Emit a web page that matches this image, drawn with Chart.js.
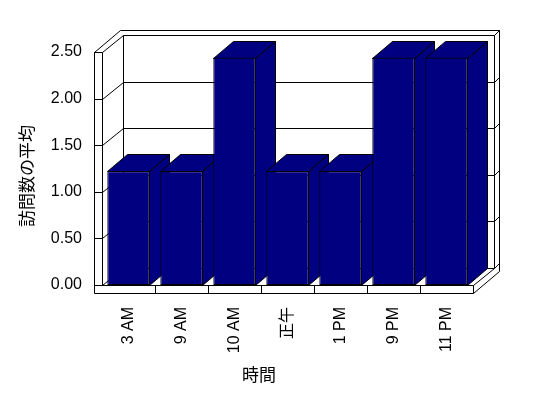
<!DOCTYPE html>
<html>
<head>
<meta charset="utf-8">
<script src="https://cdn.jsdelivr.net/npm/chart.js@4.4.1/dist/chart.umd.min.js"></script>
<style>
  body { margin: 0; background: #fff; }
</style>
</head>
<body>
<canvas id="chart" width="548" height="398"></canvas>
<script>
// data
const hours = ['3 AM', '9 AM', '10 AM', '正午', '1 PM', '9 PM', '11 PM'];
const avgVisits = [1.22, 1.22, 2.44, 1.22, 1.22, 2.44, 2.44];
const yTicks = [0, 0.5, 1, 1.5, 2, 2.5];
const yTitle = '訪問数の平均';
const xTitle = '時間';

const NAVY = '#000080';
const FONT = '"Liberation Sans", "Noto Sans CJK JP", sans-serif';
const D_IN = [21, -17];   // front plane -> back wall inner face
const D_OUT = [26, -22];  // front plane -> back wall outer face
const D_BAR = [20, -17];  // bar depth
const WALL = 8;           // wall / floor thickness

const px = v => Math.round(v) + 0.5;

function seg(ctx, pts) {
    ctx.beginPath();
    ctx.moveTo(px(pts[0][0]), px(pts[0][1]));
    for (let i = 1; i < pts.length; i++) ctx.lineTo(px(pts[i][0]), px(pts[i][1]));
    ctx.stroke();
}

function poly(ctx, pts, fill) {
    ctx.beginPath();
    ctx.moveTo(px(pts[0][0]), px(pts[0][1]));
    for (let i = 1; i < pts.length; i++) ctx.lineTo(px(pts[i][0]), px(pts[i][1]));
    ctx.closePath();
    ctx.fillStyle = fill;
    ctx.fill();
    ctx.stroke();
}

// 3d box: walls, floor, gridlines, then bar tops and sides
const box3d = {
    id: 'box3d',
    beforeDatasetsDraw(chart) {
        const ctx = chart.ctx;
        const { left, right, top, bottom } = chart.chartArea;
        const ys = chart.scales.y, xs = chart.scales.x;
        const x0 = left - WALL;
        ctx.save();
        ctx.strokeStyle = '#000';
        ctx.lineWidth = 1;

        // left wall front edge
        seg(ctx, [[x0, top], [x0, bottom + WALL], [right, bottom + WALL], [right, bottom]]);
        seg(ctx, [[left, top], [left, bottom], [right, bottom]]);
        seg(ctx, [[x0, top], [left, top]]);

        // top edges
        seg(ctx, [[x0, top], [x0 + D_OUT[0], top + D_OUT[1]], [right + D_OUT[0], top + D_OUT[1]],
                  [right + D_OUT[0], bottom + WALL + D_OUT[1]], [right, bottom + WALL]]);
        seg(ctx, [[right + D_IN[0], top + D_IN[1]], [right + D_OUT[0], top + D_OUT[1]]]);
        seg(ctx, [[right, bottom], [right + D_IN[0], bottom + D_IN[1]]]);
        seg(ctx, [[right + D_IN[0], top + D_IN[1]], [right + D_IN[0], bottom + D_IN[1]]]);
        seg(ctx, [[left + D_IN[0], top + D_IN[1]], [left + D_IN[0], bottom + D_IN[1]]]);

        // gridlines
        yTicks.forEach(v => {
            const yf = ys.getPixelForValue(v);
            const yb = yf + D_IN[1];
            seg(ctx, [[x0, yf], [left, yf], [left + D_IN[0], yb], [right + D_IN[0], yb],
                      [right + D_OUT[0], yf + D_OUT[1]]]);
        });

        // category ticks on floor front
        for (let i = 1; i < hours.length; i++) {
            const x = (xs.getPixelForValue(i - 1) + xs.getPixelForValue(i)) / 2;
            seg(ctx, [[x, bottom], [x, bottom + WALL]]);
        }

        // bar sides + tops
        const meta = chart.getDatasetMeta(0);
        meta.data.forEach(el => {
            const { x, y, base, width } = el.getProps(['x', 'y', 'base', 'width'], true);
            const l = Math.round(x - width / 2), r = Math.round(x + width / 2) - 1;
            const t = Math.round(y), b = Math.round(base);
            poly(ctx, [[r, t], [r + D_BAR[0], t + D_BAR[1]], [r + D_BAR[0], b + D_BAR[1]], [r, b]], NAVY);
            poly(ctx, [[l, t], [l + D_BAR[0], t + D_BAR[1]], [r + D_BAR[0], t + D_BAR[1]], [r, t]], NAVY);
        });
        ctx.restore();
    },
    afterDraw(chart) {
        const ctx = chart.ctx;
        ctx.save();
        ctx.fillStyle = '#000';
        ctx.font = '17px ' + FONT;
        ctx.textAlign = 'center';
        ctx.textBaseline = 'middle';
        ctx.fillText(xTitle, 259, 376);
        ctx.translate(28, 176);
        ctx.rotate(-Math.PI / 2);
        ctx.fillText(yTitle, 0, 0);
        ctx.restore();
    }
};

new Chart(document.getElementById('chart'), {
    type: 'bar',
    data: {
        labels: hours,
        datasets: [{
            data: avgVisits,
            backgroundColor: NAVY,
            borderColor: '#000',
            borderWidth: 1,
            borderSkipped: false,
            barPercentage: 0.8,
            categoryPercentage: 1
        }]
    },
    options: {
        responsive: false,
        animation: false,
        events: [],
        layout: { padding: { top: 52, right: 75, bottom: 0, left: 10 } },
        plugins: { legend: { display: false }, tooltip: { enabled: false } },
        scales: {
            x: {
                grid: { display: false, drawTicks: false },
                border: { display: false },
                ticks: {
                    color: '#000',
                    font: { family: FONT, size: 16 },
                    minRotation: 90,
                    maxRotation: 90,
                    padding: 22,
                    autoSkip: false
                },
                afterFit: s => { s.height = 113; }
            },
            y: {
                min: 0,
                max: 2.5,
                grid: { display: false, drawTicks: false },
                border: { display: false },
                ticks: {
                    stepSize: 0.5,
                    color: '#000',
                    font: { family: FONT, size: 16 },
                    padding: 20,
                    callback: v => v.toFixed(2)
                },
                afterFit: s => { s.width = 92; }
            }
        }
    },
    plugins: [box3d]
});
</script>
</body>
</html>
